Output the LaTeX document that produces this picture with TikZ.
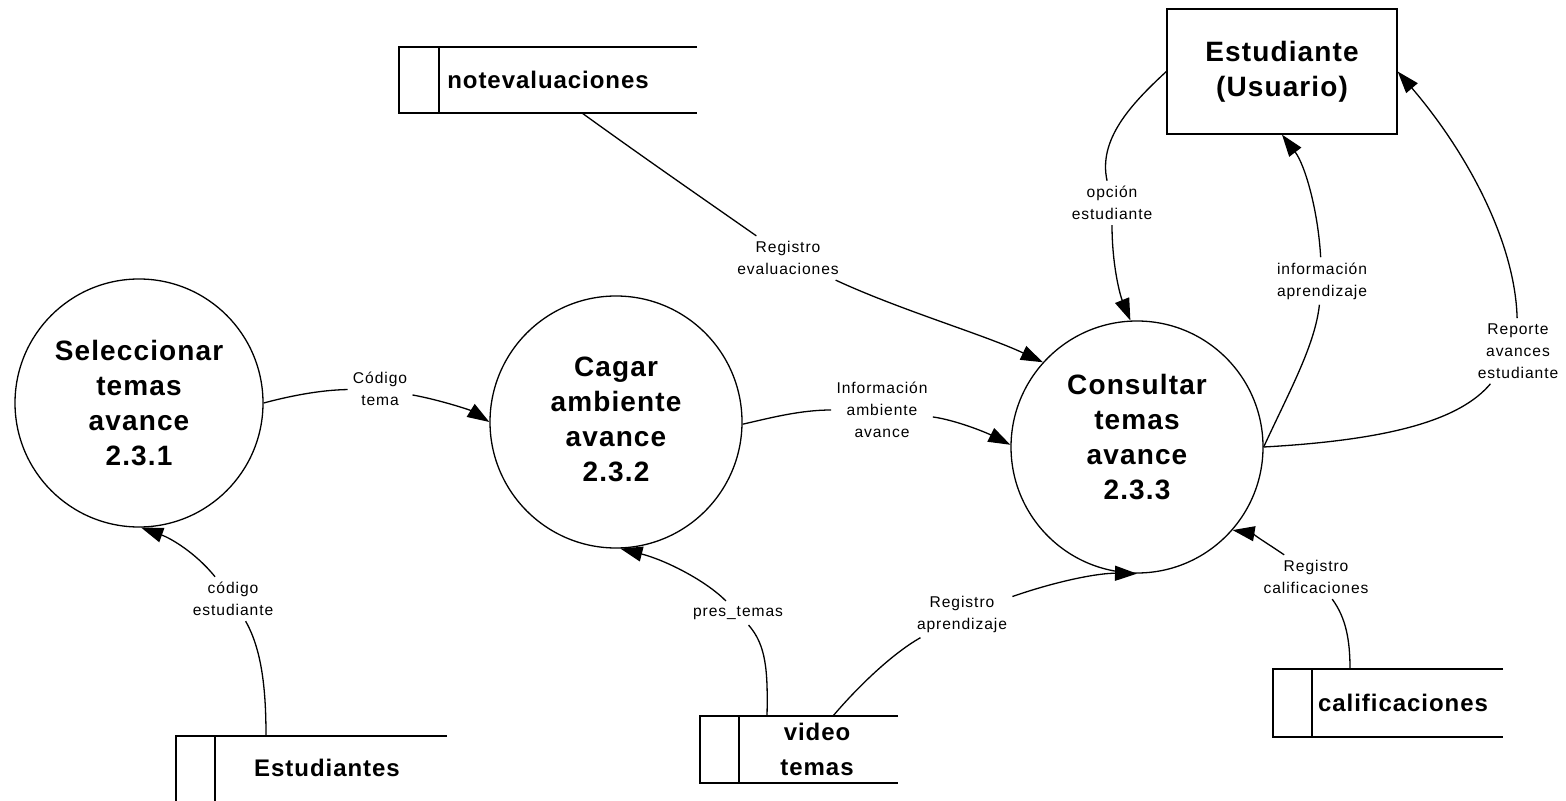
\documentclass[tikz,border=0pt]{standalone}
\usepackage{fontspec}
\setmainfont{Liberation Sans}
\newfontfamily\procfont[LetterSpace=4]{Liberation Sans}
\newfontfamily\flowfont[LetterSpace=6]{Liberation Sans}
\usetikzlibrary{arrows.meta}

\tikzset{
  proc/.style={circle, draw, line width=0.65pt, inner sep=0pt},
  proctext/.style={align=center, inner sep=0pt,
    font=\procfont\bfseries\fontsize{14}{17.5}\selectfont},
  ent/.style={rectangle, draw, line width=0.65pt, inner sep=0pt, align=center,
    font=\procfont\bfseries\fontsize{14}{17.5}\selectfont},
  storeframe/.style={rectangle, inner sep=0pt, outer sep=0pt, anchor=north west},
  storeline/.style={line width=0.65pt},
  storetext/.style={align=center, inner sep=1pt,
    font=\procfont\bfseries\fontsize{12}{17.5}\selectfont},
  flowlabel/.style={align=center, inner sep=2.5pt,
    font=\flowfont\fontsize{7.8}{11}\selectfont},
  flowtail/.style={line width=0.65pt},
  flow/.style={line width=0.65pt, -{Triangle[length=11pt,width=7.5pt]}},
}

\begin{document}
\begin{tikzpicture}[x=0.5pt,y=-0.5pt]
\useasboundingbox (0,0) rectangle (1566,801);

% processes (circle and its caption)
\node[proc, minimum size=124pt] (c1) at (139,403) {};
\node[proctext] (t1) at (139,403) {Seleccionar\\temas\\avance\\2.3.1};
\node[proc, minimum size=126pt] (c2) at (616,422) {};
\node[proctext] (t2) at (616,419) {Cagar\\ambiente\\avance\\2.3.2};
\node[proc, minimum size=126pt] (c3) at (1137,447) {};
\node[proctext] (t3) at (1137,437) {Consultar\\temas\\avance\\2.3.3};

% external entity
\node[ent, minimum width=115pt, minimum height=62.5pt] (user) at (1282,71.5) {Estudiante\\(Usuario)};

% data stores: open-ended boxes with a side compartment
\node[storeframe, minimum width=149pt, minimum height=33pt] (sNot) at (399,47) {};
\draw[storeline] (sNot.north east) -- (sNot.north west) -- (sNot.south west) -- (sNot.south east);
\draw[storeline] ([xshift=20pt]sNot.north west) -- ([xshift=20pt]sNot.south west);
\node[storetext] (tNot) at (548,80) {notevaluaciones};

\node[storeframe, minimum width=135.5pt, minimum height=32.5pt] (sEst) at (176,736) {};
\draw[storeline] (sEst.north east) -- (sEst.north west) -- (sEst.south west);
\draw[storeline] ([xshift=19.5pt]sEst.north west) -- ([xshift=19.5pt]sEst.south west);
\node[storetext] (tEst) at (327,768) {Estudiantes};

\node[storeframe, minimum width=99pt, minimum height=33.5pt] (sVid) at (700,716) {};
\draw[storeline] (sVid.north east) -- (sVid.north west) -- (sVid.south west) -- (sVid.south east);
\draw[storeline] ([xshift=19.5pt]sVid.north west) -- ([xshift=19.5pt]sVid.south west);
\node[storetext] (tVid) at (817,749.5) {video\\temas};

\node[storeframe, minimum width=115pt, minimum height=34pt] (sCal) at (1273,669) {};
\draw[storeline] (sCal.north east) -- (sCal.north west) -- (sCal.south west) -- (sCal.south east);
\draw[storeline] ([xshift=19.5pt]sCal.north west) -- ([xshift=19.5pt]sCal.south west);
\node[storetext] (tCal) at (1403,703) {calificaciones};

% points where flows leave the stores
\coordinate (pEst) at (266,736);
\coordinate (pVid1) at (767,716);
\coordinate (pVid2) at (833,716);
\coordinate (pCal) at (1350,669);
\coordinate (pNot) at (582,113);

% flow labels
\node[flowlabel] (lCodEst) at (233,599) {código\\estudiante};
\node[flowlabel] (lPres) at (738,613) {pres\_temas};
\node[flowlabel] (lRegApr) at (962,614) {Registro\\aprendizaje};
\node[flowlabel] (lRegCal) at (1316,577) {Registro\\calificaciones};
\node[flowlabel] (lCodTema) at (380,389) {Código\\tema};
\node[flowlabel] (lInfAmb) at (882,410) {Información\\ambiente\\avance};
\node[flowlabel] (lRegEval) at (788,258) {Registro\\evaluaciones};
\node[flowlabel] (lOpc) at (1112,203) {opción\\estudiante};
\node[flowlabel] (lInfApr) at (1322,281) {información\\aprendizaje};
\node[flowlabel] (lRep) at (1518,351) {Reporte\\avances\\estudiante};

% flows
\draw[flowtail] (pEst) .. controls (266,690) and (262,650) .. (lCodEst);
\draw[flow] (lCodEst) .. controls (195,552) and (170,538) .. (c1.-89);

\draw[flowtail] (pVid1) .. controls (768,670) and (766,645) .. (lPres);
\draw[flow] (lPres) .. controls (705,580) and (665,560) .. (c2.-88);

\draw[flowtail] (pVid2) .. controls (855,690) and (890,655) .. (lRegApr);
\draw[flow] (lRegApr) .. controls (1060,580) and (1100,573) .. (c3.-90);

\draw[flowtail] (pCal) .. controls (1350,640) and (1346,618) .. (lRegCal);
\draw[flow] (lRegCal) .. controls (1270,545) and (1250,533) .. (c3.-41);

\draw[flowtail] (c1.0) .. controls (290,396) and (320,390) .. (lCodTema);
\draw[flow] (lCodTema) .. controls (440,400) and (470,410) .. (c2.180);

\draw[flowtail] (c2.-1) .. controls (770,418) and (800,410) .. (lInfAmb);
\draw[flow] (lInfAmb) .. controls (955,420) and (985,432) .. (c3.179);

\draw[flowtail] (pNot) .. controls (640,155) and (705,200) .. (lRegEval);
\draw[flow] (lRegEval) .. controls (900,310) and (985,335) .. (c3.138);

\draw[flowtail] (user.west) .. controls (1130,105) and (1098,140) .. (lOpc);
\draw[flow] (lOpc) .. controls (1112,265) and (1120,295) .. (c3.93);

\draw[flowtail] (c3.0) .. controls (1290,390) and (1315,345) .. (lInfApr);
\draw[flow] (lInfApr) .. controls (1318,210) and (1305,165) .. (user.south);

\draw[flowtail] (c3.0) .. controls (1390,440) and (1460,420) .. (lRep);
\draw[flow] (lRep) .. controls (1515,240) and (1465,150) .. (user.east);
\end{tikzpicture}
\end{document}
